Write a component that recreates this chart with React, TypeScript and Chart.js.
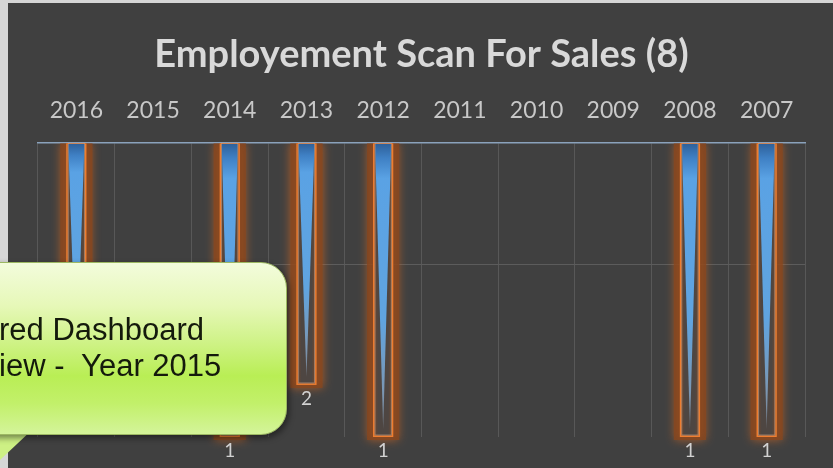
import React, { useEffect, useRef } from "react";
import { Chart, registerables } from "chart.js";

Chart.register(...registerables);

const TITLE = "Employement Scan For Sales (8)";
const YEARS = ["2016", "2015", "2014", "2013", "2012", "2011", "2010", "2009", "2008", "2007"];
const COUNTS = [2, 0, 1, 2, 1, 0, 0, 0, 1, 1];
const Y_MIN = 1;
const Y_MAX = 50;
const GRID_VALUE = 10;
const CALLOUT_LINES = ["red Dashboard", "iew -  Year 2015"];

const barDecor = {
  id: "barDecor",
  afterDatasetsDraw(chart: any) {
    const ctx = chart.ctx as CanvasRenderingContext2D;
    const meta = chart.getDatasetMeta(0);
    const area = chart.chartArea;
    ctx.save();
    ctx.beginPath();
    ctx.rect(0, area.top, chart.width, chart.height - area.top);
    ctx.clip();
    meta.data.forEach((el: any, i: number) => {
      const v = COUNTS[i];
      if (!v) return;
      const { x, y, base, width } = el.getProps(["x", "y", "base", "width"], true);
      const top = Math.min(y, base);
      const bottom = Math.max(y, base);
      const left = x - width / 2;
      const right = x + width / 2;
      const h = bottom - top;
      // glow
      ctx.save();
      ctx.shadowColor = "rgba(220,105,30,0.8)";
      ctx.shadowBlur = 9;
      ctx.fillStyle = "rgba(135,70,30,0.8)";
      ctx.fillRect(left - 6, top, width + 12, h + 3);
      ctx.restore();
      // inner
      const ig = ctx.createLinearGradient(left, 0, right, 0);
      ig.addColorStop(0, "#7a4a2a");
      ig.addColorStop(0.25, "#4e4642");
      ig.addColorStop(0.75, "#4e4642");
      ig.addColorStop(1, "#7a4a2a");
      ctx.fillStyle = ig;
      ctx.fillRect(left, top, width, h);
      // triangle
      const g = ctx.createLinearGradient(0, top, 0, bottom);
      g.addColorStop(0, "#2d5f98");
      g.addColorStop(0.05, "#3f80c4");
      g.addColorStop(0.12, "#5aa2e4");
      g.addColorStop(0.6, "#60a4e0");
      g.addColorStop(0.85, "#7b96b2");
      g.addColorStop(1, "#74787e");
      ctx.fillStyle = g;
      ctx.beginPath();
      ctx.moveTo(left + 2, top);
      ctx.lineTo(right - 2, top);
      ctx.lineTo(x, bottom - 8);
      ctx.closePath();
      ctx.fill();
      // border
      ctx.strokeStyle = "#ee7d30";
      ctx.lineWidth = 1.5;
      ctx.strokeRect(left + 0.75, top, width - 1.5, h - 0.75);
      ctx.strokeStyle = "rgba(245,200,170,0.5)";
      ctx.lineWidth = 0.8;
      ctx.strokeRect(left + 2, top, width - 4, h - 2);
      // label
      ctx.fillStyle = "#d2d2d2";
      ctx.font = "19px Lato";
      ctx.textAlign = "center";
      ctx.textBaseline = "middle";
      ctx.fillText(String(v), x, bottom + 14);
    });
    ctx.restore();
  },
};

function App() {
  const ref = useRef<HTMLCanvasElement | null>(null);
  useEffect(() => {
    if (!ref.current) return;
    const chart = new Chart(ref.current, {
      type: "bar",
      data: {
        labels: YEARS,
        datasets: [
          {
            data: COUNTS.map((v) => (v ? [Y_MAX, v] : null)) as any,
            backgroundColor: "rgba(0,0,0,0)",
            borderWidth: 0,
            categoryPercentage: 0.8,
            barPercentage: 0.33,
          },
        ],
      },
      options: {
        responsive: false,
        animation: false,
        devicePixelRatio: 1,
        layout: { padding: { left: 30, right: 28, bottom: 31, top: 0 } },
        plugins: {
          legend: { display: false },
          tooltip: { enabled: false },
          title: {
            display: true,
            text: TITLE,
            color: "#d9d9d9",
            font: { family: "Lato", size: 38, weight: "bold" },
            padding: { top: 29, bottom: 0 },
          },
        },
        scales: {
          x: {
            type: "category",
            position: "top",
            offset: true,
            grid: { offset: true, color: "#585858", lineWidth: 1, drawTicks: false },
            border: { color: "#8aa2bc", width: 1.5 },
            ticks: { color: "#c8c8c8", font: { family: "Lato", size: 23 }, padding: 19, maxRotation: 0 },
          },
          y: {
            type: "logarithmic",
            min: Y_MIN,
            max: Y_MAX,
            ticks: { display: false },
            border: { display: false },
            grid: {
              drawTicks: false,
              color: (c: any) => (c.tick && c.tick.value === GRID_VALUE ? "#5c5c5c" : "rgba(0,0,0,0)"),
            },
          },
        },
      },
      plugins: [barDecor],
    });
    return () => chart.destroy();
  }, []);

  return (
    <div
      style={{
        position: "fixed",
        left: 0,
        top: 0,
        width: 833,
        height: 468,
        background: "#d6d6d6",
        overflow: "hidden",
      }}
    >
      <div style={{ position: "absolute", left: 8, top: 3, width: 825, height: 465, background: "#404040" }}>
        <canvas ref={ref} width={825} height={465} style={{ display: "block" }} />
      </div>
      <div
        style={{
          position: "absolute",
          left: 0,
          top: 428,
          width: 34,
          height: 32,
          background: "#cdf084",
          clipPath: "polygon(0 0, 100% 0, 0 100%)",
        }}
      />
      <div
        style={{
          position: "absolute",
          left: -40,
          top: 262,
          width: 327,
          height: 173,
          borderRadius: 26,
          boxSizing: "border-box",
          border: "1px solid #9cb862",
          boxShadow: "2px 3px 6px rgba(0,0,0,0.45)",
          background:
            "linear-gradient(to bottom, #f3fcdc 0%, #e6f8b8 25%, #cdf283 48%, #b9ee55 66%, #c2f06a 82%, #d4f49a 100%)",
        }}
      />
      <div
        style={{
          position: "absolute",
          left: -1,
          top: 312,
          fontFamily: "'Liberation Sans', Arial, sans-serif",
          fontSize: 31,
          lineHeight: "36px",
          color: "#141a0c",
          whiteSpace: "pre",
        }}
      >
        {CALLOUT_LINES.map((l, i) => (
          <div key={i}>{l}</div>
        ))}
      </div>
    </div>
  );
}

export default App;
